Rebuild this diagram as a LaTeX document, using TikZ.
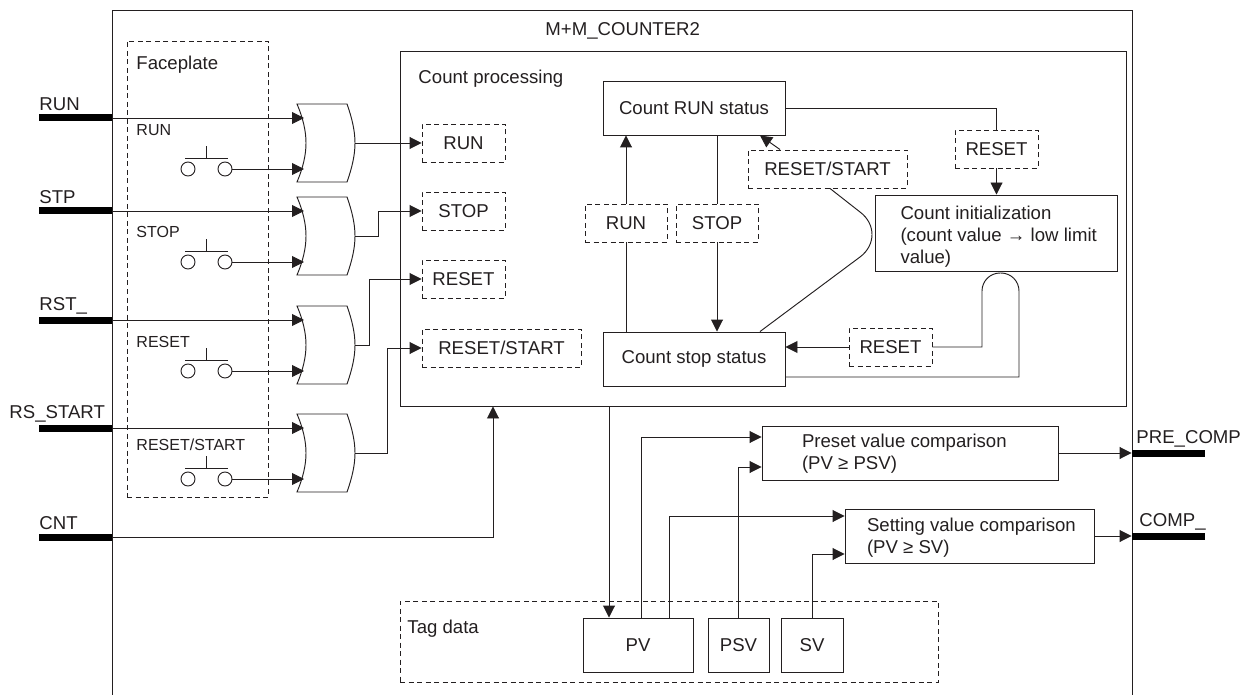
\documentclass[tikz,border=0pt]{standalone}
\usepackage{fontspec}
\setmainfont{Liberation Sans}
\definecolor{inkgray}{HTML}{231F20}
\usetikzlibrary{arrows.meta,positioning}

\begin{document}
\begin{tikzpicture}[
x=1pt, y=-1pt,
node distance=68pt,
color=inkgray,
line width=0.95pt,
txt/.style={inner sep=0pt, font=\fontsize{18.6}{22}\selectfont},
smalltxt/.style={inner sep=0pt, font=\fontsize{16}{19}\selectfont},
block/.style={rectangle, draw, inner sep=0pt, minimum width=182pt, minimum height=54pt, font=\fontsize{18.6}{22}\selectfont},
dashblock/.style={block, dash pattern=on 5pt off 3.5pt, minimum width=83pt, minimum height=38pt},
pin/.style={rectangle, fill=black, inner sep=0pt, minimum width=73pt, minimum height=7pt},
contact/.style={circle, draw, inner sep=0pt, minimum size=14pt},
gate/.style={fill=white},
link/.style={},
arrow/.style={-{Triangle[length=12pt,width=12pt]}}
]
\useasboundingbox (0,0) rectangle (1245,695);

\draw (112,695) -- (112,10) -- (1132,10) -- (1132,695);
\node (title) [txt, anchor=base west] at (545,36) {M+M\_COUNTER2};

\node (faceplate) [dashblock, minimum width=141pt, minimum height=456pt] at (197.5,269) {};
\node (lblface) [txt, anchor=base west] at (136,70) {Faceplate};
\node (lblfrun) [smalltxt, anchor=base west] at (136,136) {RUN};
\node (lblfstop) [smalltxt, anchor=base west] at (136,237) {STOP};
\node (lblfreset) [smalltxt, anchor=base west] at (136,347) {RESET};
\node (lblfrs) [smalltxt, anchor=base west] at (136,450) {RESET/START};

\node (proc) [block, minimum width=726pt, minimum height=355pt] at (763,228.5) {};
\node (lblproc) [txt, anchor=base west] at (418,84) {Count processing};

\node (cmdrun) [dashblock] at (463.5,143) {RUN};
\node (cmdstop) [dashblock, below of=cmdrun] {STOP};
\node (cmdreset) [dashblock, below of=cmdstop] {RESET};
\node (cmdrs) [dashblock, minimum width=159pt, below of=cmdreset, xshift=38pt, yshift=-1pt] {RESET/START};

\foreach \n/\lab/\y/\x/\b in {run/RUN/143/39/32, stp/STP/236/39/32, rst/RST\_/345/39/35, rs/RS\_START/453/9/35} {
\node (pin\n) [pin] at (75.5,\y-25) {};
\node (lbl\n) [txt, anchor=base west] at (\x,\y-\b) {\lab};
\draw [gate] (297,\y-39) -- (347,\y-39) .. controls (352,\y-25) and (355,\y-12) .. (355,\y) .. controls (355,\y+12) and (352,\y+25) .. (347,\y+39) -- (297,\y+39) .. controls (303,\y+25) and (306,\y+12) .. (306,\y) .. controls (306,\y-12) and (303,\y-25) .. (297,\y-39) -- cycle;
\coordinate (ina\n) at (304,\y-25);
\coordinate (inb\n) at (304,\y+26);
\coordinate (out\n) at (355,\y);
\node (swl\n) [contact] at (188,\y+26) {};
\node (swr\n) [contact] at (225,\y+26) {};
\draw (185,\y+15) -- (228,\y+15);
\draw (206.5,\y+15) -- (206.5,\y+3);
\draw [arrow] (pin\n.east) -- (ina\n);
\draw [arrow] (swr\n.east) -- (inb\n);
}

\node (pincnt) [pin] at (75.5,537) {};
\node (lblcnt) [txt, anchor=base west] at (39,529) {CNT};

\draw [arrow] (outrun) -- (cmdrun.west);
\draw [arrow] (outstp) -- ++(23,0) |- (cmdstop.west);
\draw [arrow] (outrst) -- ++(14,0) |- (cmdreset.west);
\draw [arrow] (outrs) -- ++(32,0) |- (cmdrs.west);
\draw [arrow] (pincnt.east) -| ([xshift=-270pt]proc.south);

\node (runstat) [block] at (694,108) {\raisebox{-1pt}{Count RUN status}};
\node (stopstat) [block, below of=runstat, yshift=-183pt] {\raisebox{-3pt}{Count stop status}};
\node (dashrun) [dashblock, minimum width=82pt] at (626,223) {RUN};
\node (dashstop) [dashblock, minimum width=82pt, right of=dashrun, xshift=23pt] {STOP};
\node (dashrs) [dashblock, minimum width=159pt] at (827.5,169) {RESET/START};
\node (dashinit) [dashblock] at (996.5,149) {RESET};
\node (init) [block, minimum width=242pt, minimum height=76pt, below of=dashinit, yshift=-16pt] {};
\node (inittext) [txt, align=left, right=25pt of init.west, yshift=-3.5pt] {Count initialization\\(count value \textrightarrow\ low limit\\value)};
\node (dashreset) [dashblock] at (890.5,347) {RESET};

\draw [arrow] (dashrun.north) -- (dashrun.north |- runstat.south);
\draw [link] (dashrun.south) -- (dashrun.south |- stopstat.north);
\draw [link] (dashstop.north) -- (dashstop.north |- runstat.south);
\draw [arrow] (dashstop.south) -- (dashstop.south |- stopstat.north);
\draw [arrow] ([xshift=-47.5pt]dashrs.north) -- ([xshift=66pt]runstat.south);
\draw [link] ([xshift=66pt]stopstat.north) -- (860,257) .. controls (876,245) and (876,224) .. (860,212) -- ([xshift=2.5pt]dashrs.south);
\draw [link] (runstat.east) -| (dashinit.north);
\draw [arrow] (dashinit.south) -- (init.north);
\draw [arrow] (dashreset.west) -- (dashreset.west -| stopstat.east);
\draw [link] ([yshift=-18pt]stopstat.east) -- (1019,377) [rounded corners=18pt] -- (1019,273) -- (982,273) [sharp corners] -- (982,347) -- (dashreset.east);

\node (preset) [block, minimum width=296pt] at (910,453) {};
\node (presettext) [txt, align=left, right=40pt of preset.west, yshift=-1pt] {Preset value comparison\\(PV ≥ PSV)};
\node (setting) [block, minimum width=249pt] at (969.5,536) {};
\node (settingtext) [txt, align=left, right=22pt of setting.west, yshift=-2pt] {Setting value comparison\\(PV ≥ SV)};

\node (pinpre) [pin] at (1168.5,453) {};
\node (pincomp) [pin] at (1168.5,536) {};
\node (lblpre) [txt, anchor=base west] at (1136,443) {PRE\_COMP};
\node (lblcomp) [txt, anchor=base west] at (1139,526) {COMP\_};
\draw [arrow] (preset.east) -- (pinpre.west);
\draw [arrow] (setting.east) -- (pincomp.west);

\node (tagdata) [dashblock, minimum width=538pt, minimum height=81pt] at (669,641.5) {};
\node (lbltag) [txt, anchor=base west] at (407,633) {Tag data};
\node (pv) [block, minimum width=110pt] at (638,645) {PV};
\node (psv) [block, minimum width=61pt, right of=pv, xshift=32.5pt] {PSV};
\node (sv) [block, minimum width=62pt, right of=psv, xshift=5.5pt] {SV};

\draw [arrow] ([xshift=-154pt]proc.south) -- ([xshift=-29pt]pv.north);
\draw [arrow] ([xshift=3pt]pv.north) |- ([yshift=16pt]preset.west);
\draw [arrow] ([xshift=31pt]pv.north) |- ([yshift=20pt]setting.west);
\draw [arrow] (psv.north) |- ([yshift=-14pt]preset.west);
\draw [arrow] (sv.north) |- ([yshift=-18pt]setting.west);
\end{tikzpicture}
\end{document}
